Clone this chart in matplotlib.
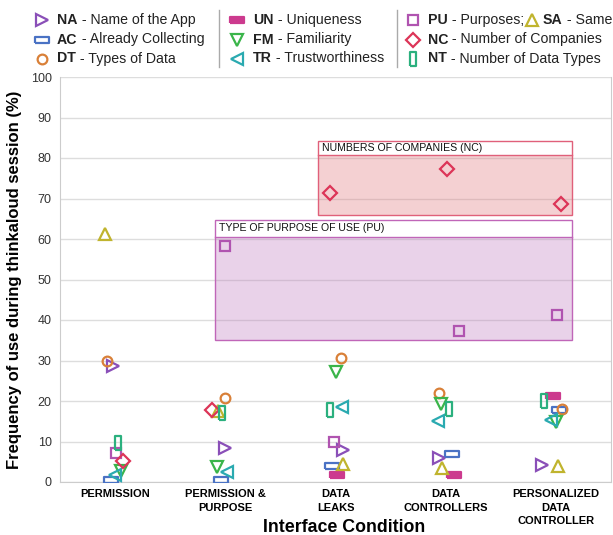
import matplotlib
matplotlib.use('Agg')
import matplotlib.pyplot as plt
import numpy as np
from matplotlib.patches import Rectangle
from matplotlib.lines import Line2D

plt.rcParams['font.family'] = ['Liberation Sans', 'DejaVu Sans']

# ---------------- data ----------------
categories = ['PERMISSION', 'PERMISSION &\nPURPOSE', 'DATA\nLEAKS',
              'DATA\nCONTROLLERS', 'PERSONALIZED\nDATA\nCONTROLLER']
nan = np.nan
NA = [28.7, 8.5, 7.8, 5.9, 4.1]
AC = [0.5, 0.6, 4.0, 6.8, 17.8]
DT = [30.0, 20.7, 30.6, 21.9, 18.0]
UN = [nan, nan, 1.7, 1.7, 21.3]
FM = [2.7, 3.7, 27.1, 19.2, 14.7]
TR = [1.7, 2.5, 18.4, 15.1, 15.3]
PU = [7.2, 58.2, 10.0, 37.4, 41.3]
SA = [61.3, 17.6, 4.5, 3.4, 4.0]
NC = [5.2, 17.7, 71.4, 77.4, 68.7]
NT = [9.7, 17.0, 17.7, 18.0, 20.0]

yticks = list(range(0, 101, 10))

# ---------------- styling / positions ----------------
W, H, DPI = 6.13, 5.35, 100
WPX, HPX = 613, 535

wide_rect = [(-1, -0.5), (1, -0.5), (1, 0.5), (-1, 0.5), (-1, -0.5)]
tall_rect = [(-0.5, -1), (0.5, -1), (0.5, 1), (-0.5, 1), (-0.5, -1)]

series = [
    # code, name, values, color, marker, size, filled
    ('NA', 'Name of the App', NA, '#8a4fb8', '>', 8.5, False),
    ('AC', 'Already Collecting', AC, '#4a72c4', wide_rect, 9.5, False),
    ('DT', 'Types of Data', DT, '#d98038', 'o', 7, False),
    ('UN', 'Uniqueness', UN, '#cc3a8e', wide_rect, 9.5, True),
    ('FM', 'Familiarity', FM, '#3ab54a', 'v', 8.5, False),
    ('TR', 'Trustworthiness', TR, '#2aaab0', '<', 8.5, False),
    ('PU', 'Purposes;', PU, '#b054b0', 's', 6.5, False),
    ('SA', 'Same', SA, '#c0b42e', '^', 8.5, False),
    ('NC', 'Number of Companies', NC, '#dc3558', 'D', 7, False),
    ('NT', 'Number of Data Types', NT, '#2bb07e', tall_rect, 10, False),
]
style = {s[0]: s for s in series}

# horizontal jitter of each series within each category
offsets = {
    'NA': [-0.015, 0.0, 0.07, -0.06, -0.13],
    'AC': [-0.035, -0.04, -0.035, 0.055, 0.03],
    'DT': [-0.075, -0.005, 0.05, -0.065, 0.055],
    'UN': [0.0, 0.0, 0.015, 0.075, -0.025],
    'FM': [0.05, -0.075, 0.0, -0.04, 0.005],
    'TR': [0.0, 0.015, 0.06, -0.07, -0.04],
    'PU': [0.01, 0.0, -0.015, 0.12, 0.01],
    'SA': [-0.09, -0.07, 0.07, -0.035, 0.02],
    'NC': [0.07, -0.12, -0.05, 0.015, 0.05],
    'NT': [0.025, -0.03, -0.05, 0.03, -0.11],
}

fig = plt.figure(figsize=(W, H), dpi=DPI)
ax = fig.add_axes([60 / WPX, 53 / HPX, 551 / WPX, 405 / HPX])
ax.set_xlim(-0.5, len(categories) - 0.5)
ax.set_ylim(0, 100)

# grid
ax.set_yticks(yticks)
ax.set_yticklabels([str(v) for v in yticks], fontsize=9, color='#333333')
ax.yaxis.grid(True, color='#dddddd', lw=1, zorder=0)
ax.set_axisbelow(True)
ax.tick_params(axis='y', length=0, pad=6)
ax.set_xticks(range(len(categories)))
ax.set_xticklabels(categories, fontsize=8, fontweight='bold', linespacing=1.45)
ax.tick_params(axis='x', length=0, pad=5)
for sp in ['left', 'bottom', 'right']:
    ax.spines[sp].set_color('#cccccc')
ax.spines['top'].set_visible(False)

fig.text(344 / WPX, 1 - 527 / HPX, 'Interface Condition', fontsize=12.8,
         fontweight='bold', ha='center', va='center')
ax.set_ylabel('Frequency of use during thinkaloud session (%)', fontsize=12,
              fontweight='bold')
ax.yaxis.set_label_coords((22 - 60) / 551, 0.5)

# highlight boxes
def hbox(x0, x1, y0, yh, y1, face, edge, title):
    ax.add_patch(Rectangle((x0, y0), x1 - x0, yh - y0, facecolor=face, alpha=0.35,
                           edgecolor='none', zorder=1))
    ax.add_patch(Rectangle((x0, yh), x1 - x0, y1 - yh, facecolor='white',
                           edgecolor='none', zorder=1))
    ax.add_patch(Rectangle((x0, y0), x1 - x0, y1 - y0, facecolor='none',
                           edgecolor=edge, lw=1, zorder=2))
    ax.plot([x0, x1], [yh, yh], color=edge, lw=1, zorder=2)
    ax.text(x0 + 0.03, (yh + y1) / 2, title, fontsize=7.6, va='center', ha='left',
            color='#111111', zorder=3)

hbox(1.845, 4.145, 66.0, 80.7, 84.2, '#e07a80', '#e0607a', 'NUMBERS OF COMPANIES (NC)')
hbox(0.91, 4.15, 35.1, 60.5, 64.8, '#c080c0', '#c066b8', 'TYPE OF PURPOSE OF USE (PU)')

# markers
xs = np.arange(len(categories))
for code, name, vals, color, mk, ms, filled in series:
    x = xs + np.array(offsets[code])
    ax.plot(x, vals, linestyle='none', marker=mk, markersize=ms,
            markerfacecolor=color if filled else 'none', markeredgecolor=color,
            markeredgewidth=1.6, zorder=4, clip_on=True)

# ---------------- legend ----------------
fig.canvas.draw()
renderer = fig.canvas.get_renderer()

def fx(px):
    return px / WPX

def fy(py):
    return 1 - py / HPX

def legend_marker(px, py, code):
    _, _, _, color, mk, ms, filled = style[code]
    fig.add_artist(Line2D([fx(px)], [fy(py)], transform=fig.transFigure,
                          linestyle='none', marker=mk, markersize=ms,
                          markerfacecolor=color if filled else 'none',
                          markeredgecolor=color, markeredgewidth=1.6))

def legend_text(px, py, s, bold):
    t = fig.text(fx(px), fy(py), s, fontsize=10.2, va='center', ha='left',
                 fontweight='bold' if bold else 'normal', color='#222222')
    bb = t.get_window_extent(renderer)
    return bb.x1

rows_y = [20, 39.5, 58.5]
columns = [
    (42, 57, ['NA', 'AC', 'DT']),
    (237, 253, ['UN', 'FM', 'TR']),
    (413, 428, ['PU', 'NC', 'NT']),
]
for mx, tx, codes in columns:
    for code, y in zip(codes, rows_y):
        legend_marker(mx, y, code)
        xe = legend_text(tx, y, code, True)
        xe = legend_text(xe, y, ' - ' + style[code][1], False)
        if code == 'PU':
            legend_marker(xe + 8, y, 'SA')
            xe2 = legend_text(xe + 19, y, 'SA', True)
            legend_text(xe2, y, ' - ' + style['SA'][1], False)

for sx in [219, 397]:
    fig.add_artist(Line2D([fx(sx), fx(sx)], [fy(10), fy(67)], transform=fig.transFigure,
                          color='#aaaaaa', lw=1))

fig.savefig('out.png', dpi=DPI)
